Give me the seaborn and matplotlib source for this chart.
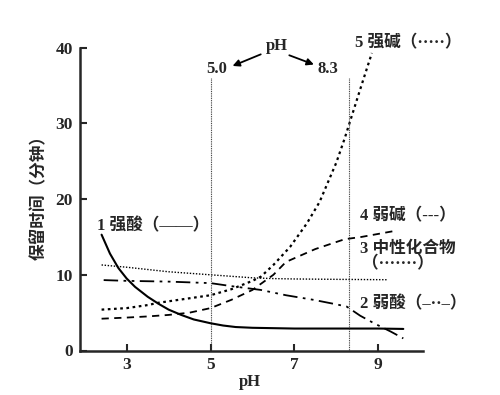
import numpy as np
import pandas as pd
import matplotlib
matplotlib.use("Agg")
import matplotlib.pyplot as plt
import seaborn as sns

# ==========================
# data
# ==========================
ph_acid = [2.4, 2.6, 2.8, 3.0, 3.2, 3.5, 3.75, 4.0, 4.3, 4.6, 5.0, 5.3, 5.6, 6.0, 7.0, 8.0, 9.0, 9.6]
t_acid = [15.3, 12.8, 10.9, 9.5, 8.4, 7.1, 6.2, 5.4, 4.7, 4.1, 3.6, 3.3, 3.1, 3.0, 2.9, 2.9, 2.9, 2.85]

ph_weak_acid = [2.45, 3.0, 4.0, 5.0, 5.5, 6.2, 6.8, 7.45, 8.0, 8.25, 8.57, 8.9, 9.3, 9.6]
t_weak_acid = [9.3, 9.2, 9.1, 8.9, 8.5, 8.0, 7.3, 6.7, 6.1, 5.8, 4.6, 3.6, 2.5, 1.6]

ph_neutral = [2.4, 3.0, 3.5, 4.0, 4.5, 5.0, 5.5, 6.0, 6.5, 7.0, 8.0, 9.2]
t_neutral = [11.3, 11.0, 10.7, 10.4, 10.2, 10.0, 9.8, 9.6, 9.5, 9.45, 9.4, 9.35]

ph_weak_base = [2.4, 3.0, 3.5, 4.0, 4.5, 5.0, 5.5, 6.0, 6.5, 6.8, 7.5, 8.2, 8.6, 9.0, 9.4]
t_weak_base = [4.2, 4.35, 4.5, 4.7, 5.0, 5.6, 6.7, 8.0, 10.0, 11.7, 13.4, 14.7, 15.0, 15.4, 15.8]

ph_base = [2.4, 3.0, 3.5, 3.75, 4.0, 4.5, 5.0, 5.5, 6.0, 6.2, 6.5, 6.9, 7.3, 7.6, 7.8, 8.0, 8.2, 8.4, 8.6, 8.85]
t_base = [5.4, 5.6, 6.0, 6.3, 6.5, 6.9, 7.3, 8.1, 9.2, 9.75, 11.3, 13.7, 16.8, 19.6, 22.2, 24.8, 28.0, 31.5, 35.0, 39.3]

ph_marks = [5.0, 8.3]
mark_top = 36.0

x_ticks = [3, 5, 7, 9]
y_ticks = [0, 10, 20, 30, 40]

# ==========================
# style
# ==========================
sns.set_theme(style="ticks")
plt.rcParams['font.family'] = ['Liberation Serif', 'Noto Sans CJK SC', 'DejaVu Sans']
plt.rcParams['font.weight'] = 'bold'

W, H = 500, 395
fig = plt.figure(figsize=(5, 3.95), dpi=100)
ax = fig.add_axes([80 / W, 1 - 350.5 / H, 343 / W, 302.8 / H])


def px(x, y):
    return x / W, 1 - y / H


# curves
sns.lineplot(x=ph_acid, y=t_acid, ax=ax, color="black", lw=1.5, linestyle="-")
sns.lineplot(x=ph_weak_acid, y=t_weak_acid, ax=ax, color="black", lw=1.3,
             linestyle=(0, (8, 3, 1.5, 3, 1.5, 3)))
sns.lineplot(x=ph_neutral, y=t_neutral, ax=ax, color="black", lw=1.0,
             linestyle=(0, (1, 1.2)))
sns.lineplot(x=ph_weak_base, y=t_weak_base, ax=ax, color="black", lw=1.3,
             linestyle=(0, (4, 3)))
sns.lineplot(x=ph_base, y=t_base, ax=ax, color="black", lw=1.6,
             linestyle=(0, (1.2, 1.6)))

# vertical pH markers
for p in ph_marks:
    ax.plot([p, p], [0, mark_top], color="#333333", lw=0.8, linestyle=(0, (0.8, 0.8)))

ax.set_xlim(1.885, 10.07)
ax.set_ylim(0, 40)
ax.set_xticks(x_ticks)
ax.set_yticks(y_ticks)
ax.set_xticklabels([str(v) for v in x_ticks])
ax.set_yticklabels([str(v) for v in y_ticks])
ax.tick_params(direction="in", length=5, width=1.5, labelsize=12.5, pad=5)
for lab in ax.get_xticklabels() + ax.get_yticklabels():
    lab.set_fontweight("bold")
sns.despine(ax=ax)
for s in ["left", "bottom"]:
    ax.spines[s].set_linewidth(1.8)
ax.set_xlabel("")
ax.set_ylabel("")

# axis labels
fig.text(*px(250, 382), "pH", ha="center", va="center", fontsize=12, fontweight="bold")
fig.text(*px(40, 193), "保留时间（分钟）", ha="center", va="center", rotation=90,
         fontsize=12, fontweight="bold")

# top annotation
fig.text(*px(276.7, 46), "pH", ha="center", va="center", fontsize=12, fontweight="bold")
fig.text(*px(216.7, 69), "5.0", ha="center", va="center", fontsize=12, fontweight="bold")
fig.text(*px(328.3, 69), "8.3", ha="center", va="center", fontsize=12, fontweight="bold")
arrow = dict(arrowstyle="-|>", color="black", lw=1.3, mutation_scale=10)
ax.annotate("", xy=px(230, 67), xytext=px(263.3, 53.3), xycoords="figure fraction",
            textcoords="figure fraction", arrowprops=arrow)
ax.annotate("", xy=px(316.5, 65.5), xytext=px(286.7, 54.3), xycoords="figure fraction",
            textcoords="figure fraction", arrowprops=arrow)

# curve labels
lab_kw = dict(ha="left", va="center", fontsize=12, fontweight="bold")
fig.text(*px(97, 226.5), "1 强酸（——）", **lab_kw)
fig.text(*px(355, 43), "5 强碱（·····）", **lab_kw)
fig.text(*px(360, 216.7), "4 弱碱（---）", **lab_kw)
fig.text(*px(360, 249.3), "3 中性化合物", **lab_kw)
fig.text(*px(362, 264), "（·······）", **lab_kw)
fig.text(*px(360, 304), "2 弱酸（–··–）", **lab_kw)

fig.savefig("out.png", dpi=100)
